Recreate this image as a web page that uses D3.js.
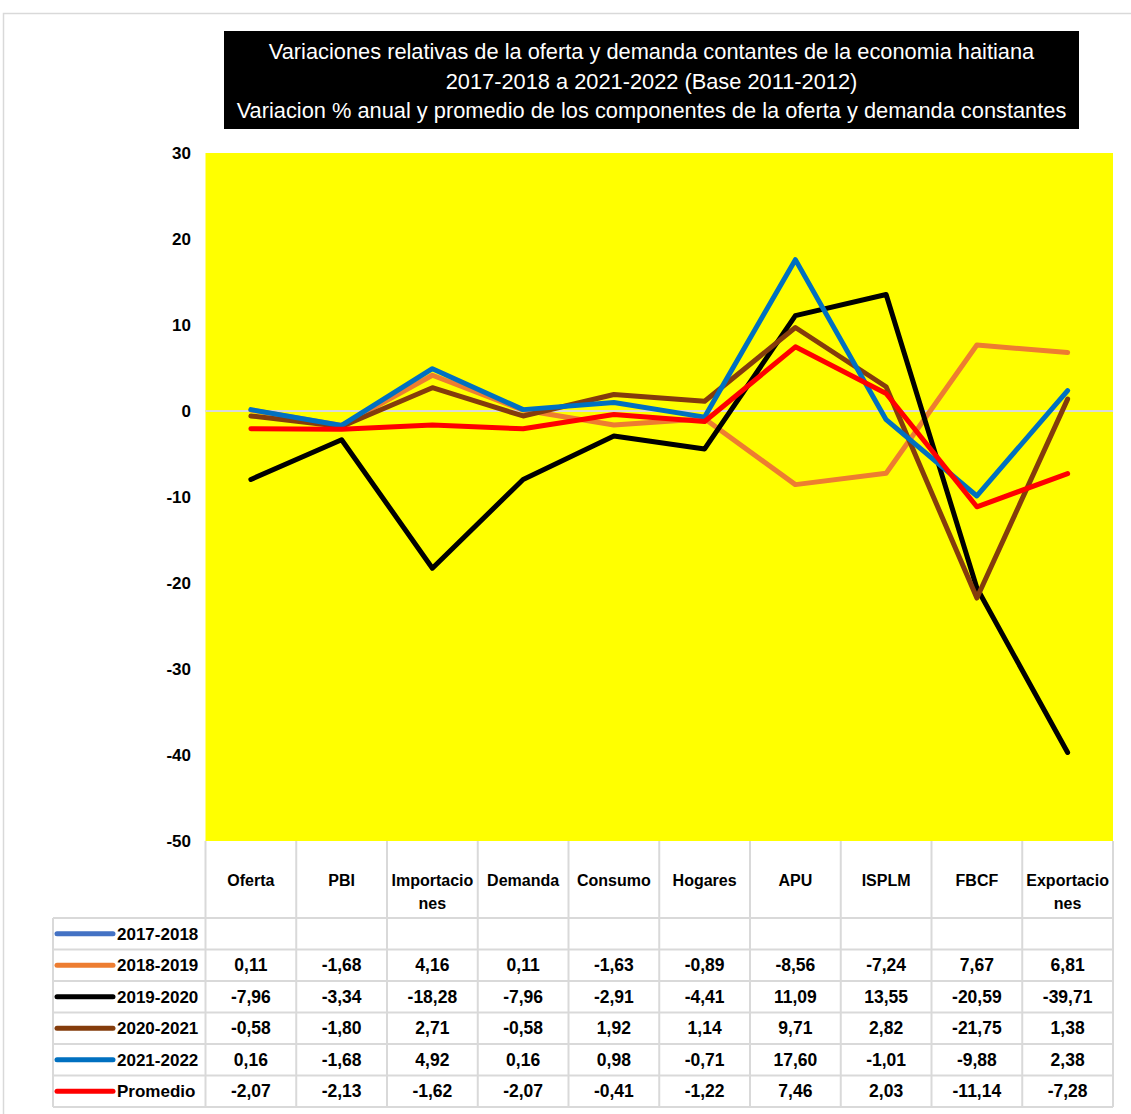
<!DOCTYPE html>
<html><head><meta charset="utf-8">
<script src="https://cdn.jsdelivr.net/npm/d3@7"></script>
<style>
body{margin:0;background:#fff;}
svg{display:block;}
text{font-family:"Liberation Sans Narrow","Arial Narrow","Liberation Sans",sans-serif;}
</style></head>
<body><svg id="c" width="1131" height="1114"></svg>
<script>
const categories = ["Oferta","PBI","Importaciones","Demanda","Consumo","Hogares","APU","ISPLM","FBCF","Exportaciones"];
const headerLines = [["Oferta"],["PBI"],["Importacio","nes"],["Demanda"],["Consumo"],["Hogares"],["APU"],["ISPLM"],["FBCF"],["Exportacio","nes"]];
const seriesNames = ["2017-2018","2018-2019","2019-2020","2020-2021","2021-2022","Promedio"];
const seriesColors = ["#4472C4","#ED7D31","#000000","#843C0C","#0070C0","#FF0000"];
const s2017 = [null,null,null,null,null,null,null,null,null,null];
const s2018 = [0.11,-1.68,4.16,0.11,-1.63,-0.89,-8.56,-7.24,7.67,6.81];
const s2019 = [-7.96,-3.34,-18.28,-7.96,-2.91,-4.41,11.09,13.55,-20.59,-39.71];
const s2020 = [-0.58,-1.80,2.71,-0.58,1.92,1.14,9.71,2.82,-21.75,1.38];
const s2021 = [0.16,-1.68,4.92,0.16,0.98,-0.71,17.60,-1.01,-9.88,2.38];
const promedio = [-2.07,-2.13,-1.62,-2.07,-0.41,-1.22,7.46,2.03,-11.14,-7.28];
const yTicks = [30,20,10,0,-10,-20,-30,-40,-50];
const titleLines = ["Variaciones relativas de la oferta y demanda contantes de la economia haitiana","2017-2018 a 2021-2022 (Base 2011-2012)","Variacion % anual y promedio de los componentes de la oferta y demanda constantes"];

const allSeries = [s2017,s2018,s2019,s2020,s2021,promedio];
const svg = d3.select("#c");
const L=205.5, R=1113, T=153, B=841;
const x = d3.scaleBand().domain(categories).range([L,R]);
const y = d3.scaleLinear().domain([-50,30]).range([B,T]);

// outer frame
svg.append("rect").attr("x",3.5).attr("y",13.5).attr("width",1140).attr("height",1120)
  .attr("fill","none").attr("stroke","#D9D9D9").attr("stroke-width",1.5);

// title box
svg.append("rect").attr("x",224).attr("y",31).attr("width",855).attr("height",98).attr("fill","#000");
svg.append("g").selectAll("text").data(titleLines).join("text")
  .attr("x",651.5).attr("y",(d,i)=>59+i*29.5).attr("text-anchor","middle")
  .attr("fill","#fff").attr("font-size",21.8).attr("font-family","'Liberation Sans',sans-serif")
  .attr("textLength",(d,i)=>i===1?null:null)
  .text(d=>d);

// plot area
svg.append("rect").attr("x",L).attr("y",T).attr("width",R-L).attr("height",B-T).attr("fill","#FFFF00");
svg.append("line").attr("x1",L).attr("x2",R).attr("y1",y(0)).attr("y2",y(0)).attr("stroke","#D9D9D9").attr("stroke-width",2);

// y axis
const yAxis = d3.axisLeft(y).tickValues(yTicks).tickSize(0).tickPadding(0).tickFormat(d=>String(d));
const ya = svg.append("g").attr("transform","translate(191,0)").call(yAxis);
ya.select(".domain").remove();
ya.selectAll("text").attr("font-size",17).attr("font-weight","bold").attr("fill","#000")
  .attr("font-family","'Liberation Sans',sans-serif");

// lines
const line = d3.line().defined(d=>d.v!=null).x(d=>x(d.c)+x.bandwidth()/2).y(d=>y(d.v));
allSeries.forEach((s,i)=>{
  const pts = categories.map((c,j)=>({c,v:s[j]}));
  svg.append("path").datum(pts).attr("d",line).attr("fill","none")
    .attr("stroke",seriesColors[i]).attr("stroke-width",5).attr("stroke-linejoin","round").attr("stroke-linecap","round");
});

// table
const grid = "#D9D9D9";
const headerTop = B, headerBot = 918;
const rowH = 31.5;
const rowTop = i=>headerBot + i*rowH;
const tableLeft = 53;
const tg = svg.append("g");
const colEdges = categories.map(c=>x(c)).concat([R]);
colEdges.forEach(xx=>{
  tg.append("line").attr("x1",xx).attr("x2",xx).attr("y1",headerTop).attr("y2",rowTop(6)).attr("stroke",grid).attr("stroke-width",2);
});
tg.append("line").attr("x1",tableLeft).attr("x2",tableLeft).attr("y1",headerBot).attr("y2",rowTop(6)).attr("stroke",grid).attr("stroke-width",2);
for(let i=0;i<=6;i++){
  tg.append("line").attr("x1",tableLeft).attr("x2",R).attr("y1",rowTop(i)).attr("y2",rowTop(i)).attr("stroke",grid).attr("stroke-width",2);
}
categories.forEach((c,j)=>{
  const lines = headerLines[j];
  lines.forEach((t,k)=>{
    tg.append("text").attr("x",x(c)+x.bandwidth()/2).attr("y",886+k*23).attr("text-anchor","middle")
      .attr("font-size",16).attr("font-weight","bold").attr("fill","#000").text(t);
  });
});
const fmt = v=>v==null?"":d3.format(".2f")(v).replace(".",",").replace("−","-");
seriesNames.forEach((n,i)=>{
  const cy = rowTop(i)+rowH/2;
  tg.append("line").attr("x1",57).attr("x2",113).attr("y1",cy).attr("y2",cy)
    .attr("stroke",seriesColors[i]).attr("stroke-width",5).attr("stroke-linecap","round");
  tg.append("text").attr("x",117).attr("y",cy+6).attr("font-size",17).attr("font-weight","bold").attr("fill","#000").text(n);
  allSeries[i].forEach((v,j)=>{
    tg.append("text").attr("x",x(categories[j])+x.bandwidth()/2).attr("y",cy+6).attr("text-anchor","middle")
      .attr("font-size",17.5).attr("font-weight","bold").attr("fill","#000").text(fmt(v));
  });
});
</script></body></html>
